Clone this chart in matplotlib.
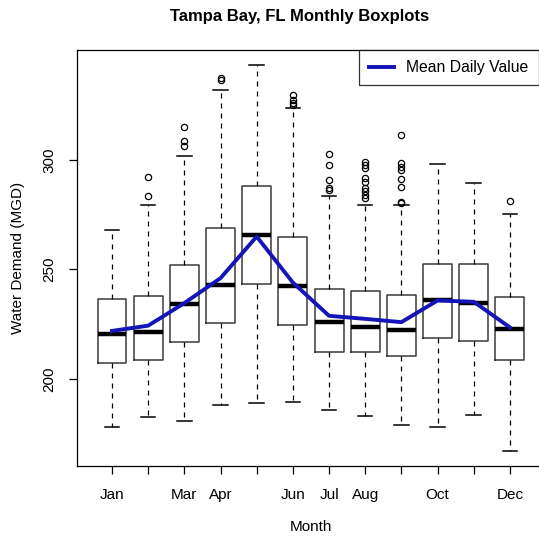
import matplotlib
matplotlib.use("Agg")
import matplotlib.pyplot as plt
import numpy as np

plt.rcParams['font.family'] = ['Liberation Sans', 'DejaVu Sans']

# monthly box statistics (MGD)
months = ["Jan", "Feb", "Mar", "Apr", "May", "Jun",
          "Jul", "Aug", "Sep", "Oct", "Nov", "Dec"]
shown_labels = ["Jan", "", "Mar", "Apr", "", "Jun",
                "Jul", "Aug", "", "Oct", "", "Dec"]
whis_lo = [178.2, 182.5, 180.8, 188.0, 189.0, 189.5, 186.0, 183.1, 178.7, 178.2, 183.6, 167.1]
q1      = [207.2, 208.7, 217.0, 225.4, 243.2, 224.8, 212.2, 212.2, 210.5, 218.6, 217.5, 208.8]
medians = [220.5, 221.3, 234.1, 242.8, 265.8, 242.3, 225.9, 223.6, 222.4, 235.8, 234.6, 223.0]
q3      = [236.7, 237.9, 252.1, 269.1, 288.3, 264.7, 241.1, 239.9, 238.4, 252.5, 252.5, 237.3]
whis_hi = [268.0, 279.5, 302.0, 332.0, 343.5, 323.9, 283.4, 279.6, 279.6, 298.2, 289.4, 275.5]
outliers = [
    [],
    [283.7, 292.1],
    [306.5, 308.8, 314.9],
    [336.5, 337.2],
    [],
    [325.1, 326.2, 327.4, 329.6],
    [286.3, 287.2, 290.7, 297.6, 302.6],
    [282.5, 284.0, 285.6, 287.1, 290.1, 291.6, 296.2, 297.7, 299.2],
    [280.2, 281.0, 287.5, 291.2, 295.4, 296.9, 298.5, 311.3],
    [],
    [],
    [281.1],
]
mean_daily = [221.9, 224.3, 234.6, 246.0, 265.0, 244.0,
              228.8, 227.4, 225.9, 235.8, 235.2, 223.5]

stats = []
for i, m in enumerate(months):
    stats.append(dict(label=m, whislo=whis_lo[i], q1=q1[i], med=medians[i],
                      q3=q3[i], whishi=whis_hi[i], fliers=outliers[i]))

W, H = 539, 537
fig = plt.figure(figsize=(W / 100, H / 100), dpi=100)
ax = fig.add_axes([77 / W, (H - 466) / H, (545 - 77) / W, (466 - 50) / H])

pos = np.arange(1, len(months) + 1)
ax.bxp(stats, positions=pos, widths=0.8, patch_artist=False,
       boxprops=dict(color="#3a3a3a", linewidth=1.1),
       medianprops=dict(color="black", linewidth=3.2, solid_capstyle="butt"),
       whiskerprops=dict(color="black", linewidth=0.9, linestyle=(0, (4, 4))),
       capprops=dict(color="black", linewidth=1.1),
       flierprops=dict(marker="o", markersize=4.5, markerfacecolor="none",
                       markeredgecolor="black", markeredgewidth=0.9))

ax.plot(pos, mean_daily, color="#1414b8", linewidth=2.8, label="Mean Daily Value",
        solid_joinstyle="round", zorder=5)

ax.set_xlim(0.033, 12.97)
ax.set_ylim(160.2, 350.2)
ax.set_xticks(pos)
ax.set_xticklabels(shown_labels)
ax.set_yticks([200, 250, 300])
ax.set_yticklabels(["200", "250", "300"], rotation=90, va="center")
ax.tick_params(axis="both", direction="out", length=6, width=0.9,
               labelsize=11, colors="black")
ax.tick_params(axis="x", pad=10)
ax.tick_params(axis="y", pad=9)
for s in ax.spines.values():
    s.set_linewidth(0.9)

ax.set_xlabel("Month", fontsize=11, labelpad=13)
ax.set_ylabel("Water Demand (MGD)", fontsize=11, labelpad=12)
fig.text(300 / W, 1 - 17 / H, "Tampa Bay, FL Monthly Boxplots",
         ha="center", va="center", fontsize=12, fontweight="bold")

leg = ax.legend(loc="upper right", fontsize=11.3, frameon=True, fancybox=False,
                bbox_to_anchor=(538.5 / W, 1 - 50 / H),
                bbox_transform=fig.transFigure,
                borderaxespad=0, handlelength=1.6, borderpad=0.65,
                handletextpad=0.75)
leg.get_frame().set_edgecolor("black")
leg.get_frame().set_linewidth(0.9)

fig.savefig("out.png", dpi=100)
